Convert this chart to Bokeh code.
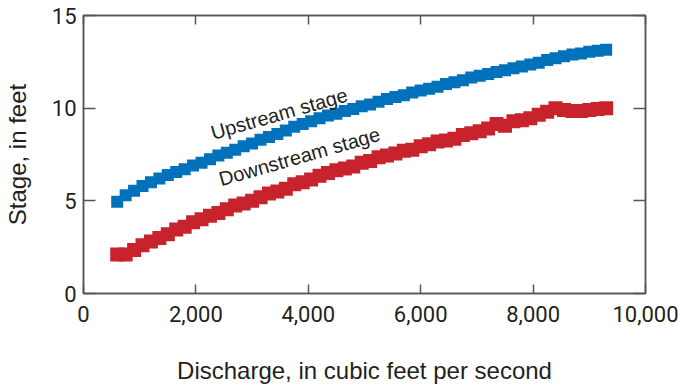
from bokeh.plotting import figure
from bokeh.models import Range1d, FixedTicker, NumeralTickFormatter, LinearAxis, Label
from bokeh.embed import file_html
from bokeh.resources import INLINE

# Discharge (cubic feet per second)
discharge = [600, 750, 900, 1050, 1200, 1350, 1500, 1650, 1800, 1950,
             2100, 2250, 2400, 2550, 2700, 2850, 3000, 3150, 3300, 3450,
             3600, 3750, 3900, 4050, 4200, 4350, 4500, 4650, 4800, 4950,
             5100, 5250, 5400, 5550, 5700, 5850, 6000, 6150, 6300, 6450,
             6600, 6750, 6900, 7050, 7200, 7350, 7500, 7650, 7800, 7950,
             8100, 8250, 8400, 8550, 8700, 8850, 9000, 9150, 9300]

upstream_stage = [4.95, 5.3, 5.55, 5.8, 6.0, 6.2, 6.4, 6.55, 6.7, 6.9,
                  7.05, 7.25, 7.45, 7.6, 7.75, 7.95, 8.1, 8.3, 8.45, 8.6,
                  8.8, 9.0, 9.15, 9.3, 9.45, 9.6, 9.7, 9.85, 9.95, 10.1,
                  10.2, 10.35, 10.5, 10.6, 10.7, 10.85, 10.95, 11.05, 11.15, 11.3,
                  11.4, 11.5, 11.65, 11.75, 11.85, 11.95, 12.05, 12.15, 12.25, 12.35,
                  12.45, 12.6, 12.7, 12.8, 12.9, 12.95, 13.05, 13.1, 13.15]

downstream_stage = [2.1, 2.1, 2.35, 2.6, 2.8, 3.0, 3.2, 3.45, 3.6, 3.85,
                    4.0, 4.2, 4.35, 4.55, 4.75, 4.85, 5.0, 5.2, 5.4, 5.5,
                    5.65, 5.9, 6.0, 6.15, 6.35, 6.5, 6.65, 6.75, 6.85, 7.05,
                    7.15, 7.35, 7.45, 7.55, 7.7, 7.75, 7.95, 8.05, 8.2, 8.25,
                    8.35, 8.55, 8.65, 8.75, 8.9, 9.15, 9.05, 9.3, 9.35, 9.45,
                    9.65, 9.8, 10.0, 9.9, 9.85, 9.85, 9.9, 9.95, 10.0]

x_ticks = [0, 2000, 4000, 6000, 8000, 10000]
y_ticks = [0, 5, 10, 15]

BLUE = "#0071bb"
RED = "#c8232c"
AXIS = "#555555"
TEXT = "#231f20"
TICK_FONT = "Roboto"
TITLE_FONT = "Liberation Sans"

p = figure(width=679, height=389, output_backend="svg", toolbar_location=None,
           x_range=Range1d(0, 10000), y_range=Range1d(0, 15),
           min_border_left=82, min_border_top=15, min_border_right=34, min_border_bottom=96)
p.grid.visible = False
p.outline_line_color = AXIS
p.outline_line_width = 1.5
p.background_fill_color = "white"
p.border_fill_color = "white"

p.xaxis.ticker = FixedTicker(ticks=x_ticks)
p.xaxis.formatter = NumeralTickFormatter(format="0,0")
p.yaxis.ticker = FixedTicker(ticks=y_ticks)

for ax in (p.xaxis[0], p.yaxis[0]):
    ax.axis_line_color = AXIS
    ax.axis_line_width = 1.5
    ax.major_tick_line_color = AXIS
    ax.major_tick_line_width = 1.5
    ax.minor_tick_line_color = None
    ax.major_tick_out = 0
    ax.major_label_text_font = TICK_FONT
    ax.major_label_text_font_size = "22px"
    ax.major_label_text_color = TEXT
    ax.axis_label_text_font = TITLE_FONT
    ax.axis_label_text_font_size = "24px"
    ax.axis_label_text_font_style = "normal"
    ax.axis_label_text_color = TEXT

p.xaxis.major_tick_in = 9
p.yaxis.major_tick_in = 12
p.xaxis.major_label_standoff = 12
p.yaxis.major_label_standoff = 7
p.xaxis.axis_label = "Discharge, in cubic feet per second"
p.yaxis.axis_label = "Stage, in feet"
p.xaxis.axis_label_standoff = 32
p.yaxis.axis_label_standoff = 18

blank_x = {t: "" for t in x_ticks}
blank_y = {t: "" for t in y_ticks}
top = LinearAxis(ticker=FixedTicker(ticks=x_ticks), major_tick_in=9, major_tick_out=0,
                 minor_tick_line_color=None, axis_line_color=AXIS, axis_line_width=1.5,
                 major_tick_line_color=AXIS, major_tick_line_width=1.5,
                 major_label_overrides=blank_x, major_label_standoff=0)
right = LinearAxis(ticker=FixedTicker(ticks=y_ticks), major_tick_in=12, major_tick_out=0,
                   minor_tick_line_color=None, axis_line_color=AXIS, axis_line_width=1.5,
                   major_tick_line_color=AXIS, major_tick_line_width=1.5,
                   major_label_overrides=blank_y, major_label_standoff=0)
p.add_layout(top, "above")
p.add_layout(right, "right")

p.scatter(discharge, upstream_stage, marker="square", size=12, fill_color=BLUE, line_color=None)
p.scatter(discharge, downstream_stage, marker="square", size=14, fill_color=RED, line_color=None)

p.add_layout(Label(x=2274, y=8.65, text="Upstream stage", angle=16, angle_units="deg",
                   text_font=TITLE_FONT, text_font_size="20px", text_color=TEXT,
                   text_baseline="alphabetic", text_align="left"))
p.add_layout(Label(x=2416, y=6.15, text="Downstream stage", angle=16, angle_units="deg",
                   text_font=TITLE_FONT, text_font_size="20px", text_color=TEXT,
                   text_baseline="alphabetic", text_align="left"))

open("out.html", "w").write(file_html(p, INLINE))
